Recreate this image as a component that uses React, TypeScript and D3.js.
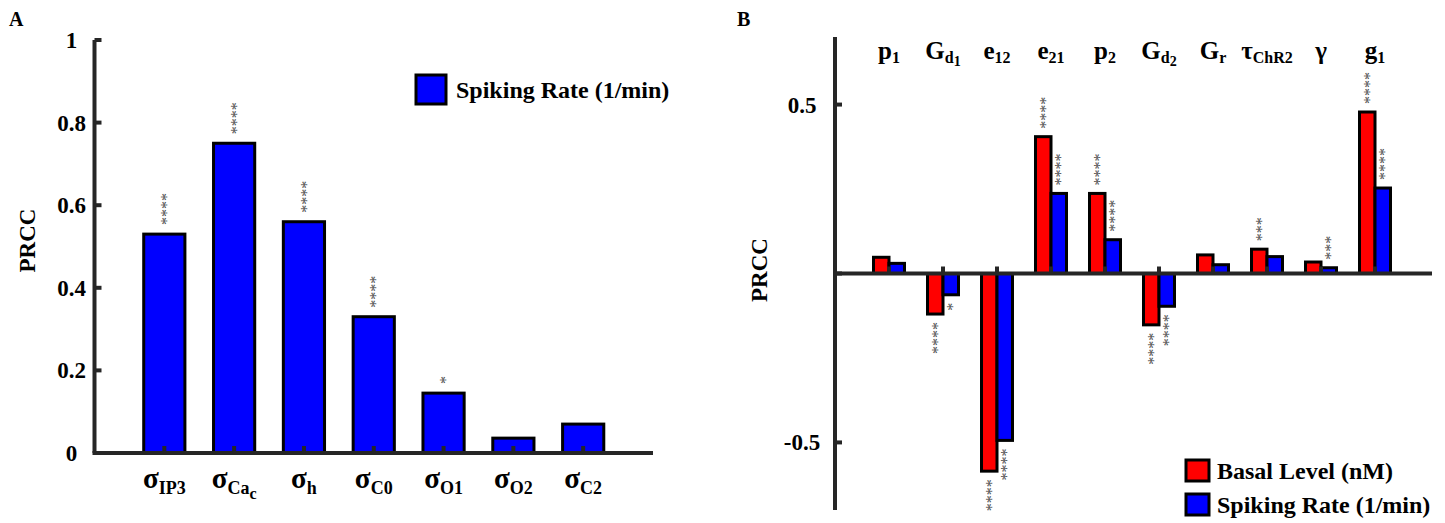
import React from 'react';
import * as d3 from 'd3';

// Panel A: PRCC of spiking rate against the sigma parameters
const labelsA = [
  { base: 'σ', sub: 'IP3', subsub: '' },
  { base: 'σ', sub: 'Ca', subsub: 'c' },
  { base: 'σ', sub: 'h', subsub: '' },
  { base: 'σ', sub: 'C0', subsub: '' },
  { base: 'σ', sub: 'O1', subsub: '' },
  { base: 'σ', sub: 'O2', subsub: '' },
  { base: 'σ', sub: 'C2', subsub: '' },
];
const spikingA = [0.53, 0.75, 0.56, 0.33, 0.145, 0.036, 0.07];
const starsA = ['****', '****', '****', '****', '*', '', ''];
const ticksA = [0, 0.2, 0.4, 0.6, 0.8, 1];
const tickLabelsA = ['0', '0.2', '0.4', '0.6', '0.8', '1'];

// Panel B: PRCC of basal level and spiking rate against model parameters
const labelsB = [
  { base: 'p', sub: '1', subsub: '' },
  { base: 'G', sub: 'd', subsub: '1' },
  { base: 'e', sub: '12', subsub: '' },
  { base: 'e', sub: '21', subsub: '' },
  { base: 'p', sub: '2', subsub: '' },
  { base: 'G', sub: 'd', subsub: '2' },
  { base: 'G', sub: 'r', subsub: '' },
  { base: 'τ', sub: 'ChR2', subsub: '' },
  { base: 'γ', sub: '', subsub: '' },
  { base: 'g', sub: '1', subsub: '' },
];
const basalB = [0.048, -0.12, -0.585, 0.405, 0.237, -0.152, 0.055, 0.072, 0.034, 0.478];
const spikingB = [0.03, -0.063, -0.494, 0.237, 0.1, -0.097, 0.026, 0.05, 0.017, 0.253];
const basalStarsB = ['', '****', '****', '****', '****', '****', '', '***', '', '****'];
const spikingStarsB = ['', '*', '****', '****', '****', '****', '', '', '***', '****'];
const ticksB = [-0.5, 0, 0.5];
const tickLabelsB = ['-0.5', '', '0.5'];

const FONT = '"Liberation Serif", "Times New Roman", serif';
const AXIS = '#262626';
const RED = '#ff0000';
const BLUE = '#0000ff';
const STAR = '#505050';

type Lbl = { base: string; sub: string; subsub: string };

function SubLabel({ x, y, l, size, subSize, subDy }: { x: number; y: number; l: Lbl; size: number; subSize: number; subDy: number }) {
  return (
    <text x={x} y={y} textAnchor="middle" fontFamily={FONT} fontWeight="bold" fontSize={size} fill="#000">
      <tspan>{l.base}</tspan>
      {l.sub && <tspan fontSize={subSize} dy={subDy}>{l.sub}</tspan>}
      {l.subsub && <tspan fontSize={subSize - 2} dy={subDy - 1}>{l.subsub}</tspan>}
    </text>
  );
}

function Stars({ x, y, text, up }: { x: number; y: number; text: string; up: boolean }) {
  if (!text) return null;
  return (
    <text
      transform={`translate(${x},${y}) rotate(-90)`}
      textAnchor={up ? 'start' : 'end'}
      dy="0.48em"
      fontFamily={FONT}
      fontSize={16}
      fill={STAR}
    >
      {text}
    </text>
  );
}

export default function App() {
  const xA = d3.scaleLinear().domain([0, 8]).range([94.5, 653]);
  const yA = d3.scaleLinear().domain([0, 1]).range([453, 40]);
  const bwA = 0.59 * (xA(1) - xA(0));

  const xB = d3.scaleLinear().domain([0, 11]).range([835, 1429]);
  const yB = d3.scaleLinear().domain([-0.7, 0.7]).range([510, 37]);
  const bwB = 15.5;
  const gap = 8;

  return (
    <svg width={1445} height={523} style={{ position: 'absolute', left: 0, top: 0, background: '#fff' }}>
      {/* ---------- Panel A ---------- */}
      <text x={9} y={26} fontFamily={FONT} fontWeight="bold" fontSize={20}>A</text>
      <text transform="translate(35,240.5) rotate(-90)" textAnchor="middle" fontFamily={FONT} fontWeight="bold" fontSize={23}>PRCC</text>

      {spikingA.map((v, i) => (
        <rect key={`a${i}`} x={xA(i + 1) - bwA / 2} y={yA(v)} width={bwA} height={yA(0) - yA(v)}
          fill={BLUE} stroke="#000" strokeWidth={3} />
      ))}
      {spikingA.map((v, i) => (
        <Stars key={`as${i}`} x={xA(i + 1)} y={yA(v) - gap - 1} text={starsA[i]} up />
      ))}

      {/* axes A */}
      <line x1={xA(0)} x2={xA(0)} y1={yA(1)} y2={yA(0)} stroke={AXIS} strokeWidth={4} />
      <line x1={xA(0) - 2} x2={xA(8)} y1={yA(0)} y2={yA(0)} stroke={AXIS} strokeWidth={4} />
      {ticksA.map((t, i) => (
        <g key={`at${i}`}>
          <line x1={xA(0)} x2={xA(0) + 7} y1={yA(t)} y2={yA(t)} stroke={AXIS} strokeWidth={4} />
          <text x={71.5} y={yA(t)} dy="0.35em" textAnchor="middle" fontFamily={FONT} fontWeight="bold" fontSize={23}>{tickLabelsA[i]}</text>
        </g>
      ))}
      {labelsA.map((l, i) => (
        <g key={`al${i}`}>
          <line x1={xA(i + 1)} x2={xA(i + 1)} y1={yA(0)} y2={yA(0) - 7} stroke={AXIS} strokeWidth={4} />
          <SubLabel x={xA(i + 1)} y={488} l={l} size={29} subSize={18} subDy={6} />
        </g>
      ))}

      {/* legend A */}
      <rect x={416} y={75} width={30} height={29} fill={BLUE} stroke="#000" strokeWidth={3} />
      <text x={456} y={98} fontFamily={FONT} fontWeight="bold" fontSize={24}>Spiking Rate (1/min)</text>

      {/* ---------- Panel B ---------- */}
      <text x={737} y={26} fontFamily={FONT} fontWeight="bold" fontSize={20}>B</text>
      <text transform="translate(767,270) rotate(-90)" textAnchor="middle" fontFamily={FONT} fontWeight="bold" fontSize={23}>PRCC</text>

      {basalB.map((v, i) => (
        <rect key={`br${i}`} x={xB(i + 1) - bwB} y={Math.min(yB(v), yB(0))} width={bwB}
          height={Math.abs(yB(v) - yB(0))} fill={RED} stroke="#000" strokeWidth={3} />
      ))}
      {spikingB.map((v, i) => (
        <rect key={`bb${i}`} x={xB(i + 1)} y={Math.min(yB(v), yB(0))} width={bwB}
          height={Math.abs(yB(v) - yB(0))} fill={BLUE} stroke="#000" strokeWidth={3} />
      ))}
      {basalB.map((v, i) => (
        <Stars key={`brs${i}`} x={xB(i + 1) - bwB / 2} y={v >= 0 ? yB(v) - gap : yB(v) + gap}
          text={basalStarsB[i]} up={v >= 0} />
      ))}
      {spikingB.map((v, i) => (
        <Stars key={`bbs${i}`} x={xB(i + 1) + bwB / 2} y={v >= 0 ? yB(v) - gap : yB(v) + gap}
          text={spikingStarsB[i]} up={v >= 0} />
      ))}

      {/* axes B */}
      <line x1={xB(0)} x2={xB(0)} y1={yB(0.7)} y2={yB(-0.7)} stroke={AXIS} strokeWidth={4} />
      <line x1={xB(0)} x2={xB(11) + 3} y1={yB(0)} y2={yB(0)} stroke={AXIS} strokeWidth={4} />
      {ticksB.map((t, i) => (
        <g key={`bt${i}`}>
          <line x1={xB(0)} x2={xB(0) + 7} y1={yB(t)} y2={yB(t)} stroke={AXIS} strokeWidth={4} />
          {tickLabelsB[i] && (
            <text x={802} y={yB(t)} dy="0.35em" textAnchor="middle" fontFamily={FONT} fontWeight="bold" fontSize={23}>{tickLabelsB[i]}</text>
          )}
        </g>
      ))}
      {labelsB.map((l, i) => (
        <g key={`bl${i}`}>
          <line x1={xB(i + 1)} x2={xB(i + 1)} y1={yB(0)} y2={yB(0) - 7} stroke={AXIS} strokeWidth={4} />
          <SubLabel x={xB(i + 1)} y={59} l={l} size={25} subSize={16} subDy={4} />
        </g>
      ))}

      {/* legend B */}
      <rect x={1186} y={460} width={23} height={21} fill={RED} stroke="#000" strokeWidth={3} />
      <text x={1217} y={479} fontFamily={FONT} fontWeight="bold" fontSize={24}>Basal Level (nM)</text>
      <rect x={1186} y={494} width={23} height={21} fill={BLUE} stroke="#000" strokeWidth={3} />
      <text x={1217} y={513} fontFamily={FONT} fontWeight="bold" fontSize={24}>Spiking Rate (1/min)</text>
    </svg>
  );
}
